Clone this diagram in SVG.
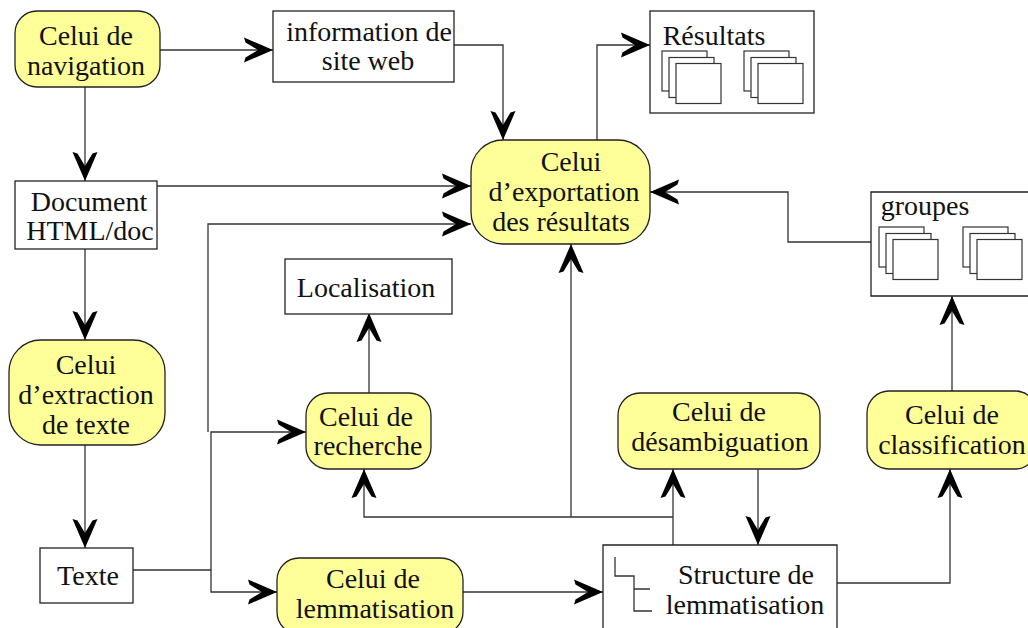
<svg xmlns="http://www.w3.org/2000/svg" width="1028" height="628" viewBox="0 0 1028 628">
<style>
text{font-family:"Liberation Serif","Times New Roman",serif;font-size:28px;fill:#111;text-anchor:middle}
.y{fill:#ffff99;stroke:#222;stroke-width:1.3}
.b{fill:#fff;stroke:#222;stroke-width:1.3}
.s{fill:#fff;stroke:#333;stroke-width:1.2}
.c{fill:none;stroke:#333;stroke-width:1.3}
</style>
<defs>
<marker id="a" markerUnits="userSpaceOnUse" markerWidth="30" markerHeight="26" refX="29" refY="13" orient="auto" viewBox="0 0 30 26">
<path d="M0 .5L29 13L0 25.500L1.500 20.500L14 13L1.500 5.500Z" fill="#000"/>
</marker>
<g id="st"><rect class="s" x="0" y="0" width="45" height="40"/><rect class="s" x="7" y="6.500" width="45" height="40"/><rect class="s" x="14" y="12.500" width="45" height="40"/></g>
</defs>
<g id="connectors">
<path class="c" d="M158 50H273" marker-end="url(#a)"/>
<path class="c" d="M85 87V181" marker-end="url(#a)"/>
<path class="c" d="M85 249V340" marker-end="url(#a)"/>
<path class="c" d="M85 445V548" marker-end="url(#a)"/>
<path class="c" d="M454 45H503V140" marker-end="url(#a)"/>
<path class="c" d="M597 140V45H650" marker-end="url(#a)"/>
<path class="c" d="M156 186H471" marker-end="url(#a)"/>
<path class="c" d="M208 432V224H471" marker-end="url(#a)"/>
<path class="c" d="M871 242H788V192H650" marker-end="url(#a)"/>
<path class="c" d="M369 393V313" marker-end="url(#a)"/>
<path class="c" d="M133 570H211V432H306" marker-end="url(#a)"/>
<path class="c" d="M211 570V592H277" marker-end="url(#a)"/>
<path class="c" d="M463 592H603" marker-end="url(#a)"/>
<path class="c" d="M673 545V469" marker-end="url(#a)"/>
<path class="c" d="M673 517H364V469" marker-end="url(#a)"/>
<path class="c" d="M571 517V244" marker-end="url(#a)"/>
<path class="c" d="M758 469V545" marker-end="url(#a)"/>
<path class="c" d="M836 583H950V469" marker-end="url(#a)"/>
<path class="c" d="M952 393V296" marker-end="url(#a)"/>
</g>
<g id="n-navigation"><rect class="y" x="15" y="11" width="145" height="76" rx="22"/><text x="86" y="45">Celui de</text><text x="86" y="75">navigation</text></g>
<g id="n-info"><rect class="b" x="273" y="11" width="181" height="71"/><text x="369" y="41">information de</text><text x="368" y="70">site web</text></g>
<g id="n-resultats"><rect class="b" x="650" y="11" width="164" height="102"/><text x="714" y="45">Résultats</text><use href="#st" x="662" y="51"/><use href="#st" x="744" y="51"/></g>
<g id="n-document"><rect class="b" x="15" y="181" width="142" height="68"/><text x="89" y="211">Document</text><text x="90" y="240">HTML/doc</text></g>
<g id="n-export"><rect class="y" x="471" y="140" width="179" height="104" rx="32"/><text x="571" y="171">Celui</text><text x="564" y="201">d’exportation</text><text x="561" y="231">des résultats</text></g>
<g id="n-groupes"><path class="b" d="M1028 192H871V296H1028"/><text x="925" y="215">groupes</text><use href="#st" x="879" y="227"/><use href="#st" x="963" y="227"/></g>
<g id="n-localisation"><rect class="b" x="285" y="259" width="167" height="55"/><text x="366" y="297">Localisation</text></g>
<g id="n-extraction"><rect class="y" x="9" y="340" width="156" height="105" rx="32"/><text x="86" y="374">Celui</text><text x="86" y="404">d’extraction</text><text x="86" y="434">de texte</text></g>
<g id="n-recherche"><rect class="y" x="306" y="393" width="125" height="76" rx="22"/><text x="366" y="426">Celui de</text><text x="368" y="455">recherche</text></g>
<g id="n-desamb"><rect class="y" x="618" y="393" width="202" height="76" rx="22"/><text x="719" y="421">Celui de</text><text x="720" y="451">désambiguation</text></g>
<g id="n-classif"><rect class="y" x="867" y="391" width="170" height="78" rx="22"/><text x="952" y="424">Celui de</text><text x="952" y="454">classification</text></g>
<g id="n-texte"><rect class="b" x="40" y="548" width="93" height="55"/><text x="88" y="585">Texte</text></g>
<g id="n-lemm"><rect class="y" x="277" y="558" width="186" height="76" rx="22"/><text x="373" y="588">Celui de</text><text x="375" y="618">lemmatisation</text></g>
<g id="n-structure"><path class="b" d="M603 628V545H837V628"/><path class="c" d="M615 557V576H634V611H652M634 589H650"/><text x="746" y="584">Structure de</text><text x="745" y="614">lemmatisation</text></g>
</svg>
